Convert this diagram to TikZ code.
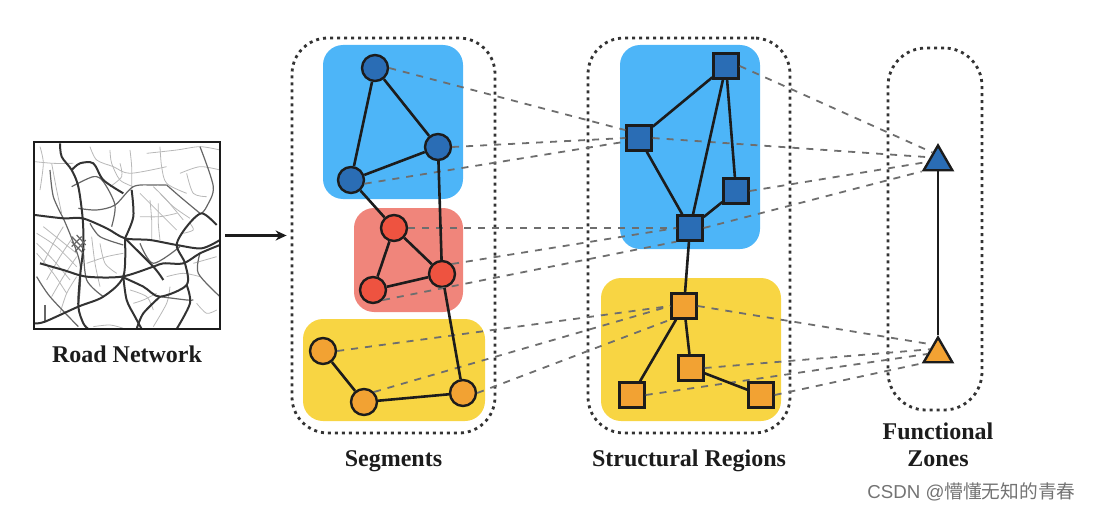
\documentclass[tikz,border=0pt]{standalone}
\usepackage{fontspec}
\setmainfont{Liberation Serif}
\newfontfamily\marksans{Liberation Sans}
\newfontfamily\markcjk{Noto Sans CJK SC}
\usepackage{tikz}
\usetikzlibrary{shapes.geometric,arrows.meta,positioning}

\definecolor{regionblue}{HTML}{4DB5F8}
\definecolor{regionred}{HTML}{F0857B}
\definecolor{regionyellow}{HTML}{F8D543}
\definecolor{nodeblue}{HTML}{2A6DB5}
\definecolor{nodered}{HTML}{EE5340}
\definecolor{nodeorange}{HTML}{F2A233}
\definecolor{inkdark}{HTML}{1C1C1C}
\definecolor{crossgray}{HTML}{6E6E6E}

\begin{document}
\begin{tikzpicture}[x=1pt, y=-1pt, node distance=8pt]
    \tikzstyle{region} = [rectangle, rounded corners=20pt, inner sep=0pt]
    \tikzstyle{group} = [rectangle, draw=inkdark!90, line width=2.8pt, dash pattern=on 3pt off 4pt, inner sep=0pt]
    \tikzstyle{segment} = [circle, draw=inkdark, line width=2.4pt, minimum size=26pt, inner sep=0pt]
    \tikzstyle{structure} = [rectangle, draw=inkdark, line width=2.4pt, minimum size=25pt, inner sep=0pt]
    \tikzstyle{zone} = [regular polygon, regular polygon sides=3, draw=inkdark, line width=2.4pt, minimum size=33pt, inner sep=0pt]
    \tikzstyle{caption} = [font=\bfseries\fontsize{24}{27}\selectfont, align=center, text=inkdark]
    \tikzstyle{link} = [draw=inkdark, line width=2.6pt]
    \tikzstyle{cross} = [draw=crossgray, line width=1.8pt, dash pattern=on 7pt off 7pt]
    \tikzstyle{street} = [draw=black!28, line width=0.8pt]
    \tikzstyle{avenue} = [draw=black!60, line width=1.2pt]
    \tikzstyle{highway} = [draw=black!80, line width=2pt]

    \useasboundingbox (0,0) rectangle (1093,511);

    \begin{scope}[shift={(20,130)}, x=0.3333pt, y=-0.3333pt]
        \clip (42,36) rectangle (604,598);
        \draw [street] plot [smooth] coordinates {(95,100) (110,180) (125,250)};
        \draw [street] plot [smooth] coordinates {(45,95) (100,100) (160,100)};
        \draw [street] plot [smooth] coordinates {(60,50) (70,100) (60,180)};
        \draw [street] plot [smooth] coordinates {(210,50) (230,90) (280,110) (330,130) (440,110)};
        \draw [street] plot [smooth] coordinates {(270,60) (275,100) (300,150) (340,170)};
        \draw [street] plot [smooth] coordinates {(330,60) (335,110) (335,180)};
        \draw [street] plot [smooth] coordinates {(300,100) (305,140) (270,170)};
        \draw [street] plot [smooth] coordinates {(420,50) (425,110) (440,160) (500,190)};
        \draw [street] plot [smooth] coordinates {(380,70) (470,60) (540,50) (600,60)};
        \draw [street] plot [smooth] coordinates {(480,130) (540,110) (600,120)};
        \draw [street] plot [smooth] coordinates {(500,130) (520,190) (560,200)};
        \draw [street] plot [smooth] coordinates {(400,170) (440,210) (490,270)};
        \draw [street] plot [smooth] coordinates {(360,190) (420,250) (470,300)};
        \draw [street] plot [smooth] coordinates {(420,190) (460,230) (510,265)};
        \draw [street] plot [smooth] coordinates {(390,210) (395,270) (395,330)};
        \draw [street] plot [smooth] coordinates {(415,220) (415,280) (420,330)};
        \draw [street] plot [smooth] coordinates {(360,260) (420,260) (470,250)};
        \draw [street] plot [smooth] coordinates {(50,310) (110,350) (170,410)};
        \draw [street] plot [smooth] coordinates {(50,340) (100,390) (150,450)};
        \draw [street] plot [smooth] coordinates {(50,370) (100,430) (140,490)};
        \draw [street] plot [smooth] coordinates {(70,290) (120,330) (170,370)};
        \draw [street] plot [smooth] coordinates {(130,290) (100,340) (70,400)};
        \draw [street] plot [smooth] coordinates {(160,320) (120,380) (80,450)};
        \draw [street] plot [smooth] coordinates {(170,380) (130,440) (95,500)};
        \draw [street] plot [smooth] coordinates {(170,440) (140,490) (120,550)};
        \draw [street] plot [smooth] coordinates {(215,320) (225,400) (240,470)};
        \draw [street] plot [smooth] coordinates {(240,340) (255,400) (290,430)};
        \draw [street] plot [smooth] coordinates {(200,400) (260,380) (310,370)};
        \draw [street] plot [smooth] coordinates {(330,480) (380,500) (400,540)};
        \draw [street] plot [smooth] coordinates {(340,520) (370,510) (410,490)};
        \draw [street] plot [smooth] coordinates {(440,440) (490,430) (540,440)};
        \draw [street] plot [smooth] coordinates {(450,470) (440,520) (400,590)};
        \draw [street] plot [smooth] coordinates {(520,400) (590,380)};
        \draw [street] plot [smooth] coordinates {(530,520) (560,550) (590,540)};
        \draw [street] plot [smooth] coordinates {(220,590) (270,585) (310,595)};
        \draw [street] plot [smooth] coordinates {(510,280) (520,300) (490,310)};
        \draw [avenue] plot [smooth] coordinates {(90,120) (100,200) (130,265)};
        \draw [avenue] plot [smooth] coordinates {(155,170) (220,140) (250,155) (285,225) (275,290)};
        \draw [avenue] plot [smooth] coordinates {(175,235) (230,240) (285,225) (340,170) (400,165) (440,165)};
        \draw [avenue] plot [smooth] coordinates {(440,165) (480,200) (540,250)};
        \draw [avenue] plot [smooth] coordinates {(540,50) (580,170) (560,230) (545,250)};
        \draw [avenue] plot [smooth] coordinates {(190,350) (200,450) (250,500)};
        \draw [avenue] plot [smooth] coordinates {(50,440) (90,500) (175,590)};
        \draw [avenue] plot [smooth] coordinates {(130,265) (180,400) (175,530)};
        \draw [avenue] plot [smooth] coordinates {(210,280) (240,320) (310,345)};
        \draw [avenue] plot [smooth] coordinates {(540,370) (535,430) (600,500)};
        \draw [avenue] plot [smooth] coordinates {(420,500) (500,510) (520,510)};
        \draw [avenue] plot [smooth] coordinates {(75,525) (75,575)};
        \draw [avenue] plot [smooth] coordinates {(360,340) (400,400) (480,350)};
        \draw [highway] plot [smooth] coordinates {(120,40) (125,80) (155,120) (175,170) (188,265) (190,350) (180,440) (175,530) (190,580) (205,597)};
        \draw [highway] plot [smooth] coordinates {(45,255) (130,265) (188,265) (260,295) (315,325) (390,330) (470,345) (545,355) (600,330)};
        \draw [highway] plot [smooth] coordinates {(315,325) (340,260) (335,180)};
        \draw [highway] plot [smooth] coordinates {(315,325) (310,440) (250,500) (175,530) (75,575) (45,580)};
        \draw [highway] plot [smooth] coordinates {(60,400) (130,420) (200,440) (305,440) (400,410) (430,400) (490,400) (540,370) (600,345)};
        \draw [highway] plot [smooth] coordinates {(305,440) (370,470) (420,500) (500,465) (495,400) (470,345) (500,290) (545,250) (590,285)};
        \draw [highway] plot [smooth] coordinates {(420,500) (370,550) (350,597)};
        \draw [highway] plot [smooth] coordinates {(500,465) (510,520) (470,597)};
        \draw [highway] plot [smooth] coordinates {(310,440) (320,510) (345,560) (365,597)};
        \draw [highway] plot [smooth] coordinates {(315,325) (400,410) (430,450)};
        \draw [highway] plot [smooth] coordinates {(155,120) (180,100) (220,100) (250,150) (310,190)};
        \draw [avenue] (155,320) -- (195,360);
        \draw [avenue] (155,335) -- (190,370);
        \draw [avenue] (170,315) -- (197,345);
        \draw [avenue] (155,350) -- (185,320);
        \draw [avenue] (165,365) -- (197,330);
    \end{scope}

    \node [rectangle, draw=inkdark, line width=2.6pt, minimum width=186pt, minimum height=187pt, inner sep=0pt] (roads) at (127,235.5) {};
    \node [caption, below=12pt of roads] (roadslabel) {Road Network};

    \node [region, fill=regionblue, minimum width=140pt, minimum height=154pt] (segblue) at (393,122) {};
    \node [region, fill=regionred, minimum width=109pt, minimum height=104pt] (segred) at (408.5,260) {};
    \node [region, fill=regionyellow, minimum width=182pt, minimum height=102pt] (segyellow) at (394,370) {};
    \node [region, fill=regionblue, minimum width=140pt, minimum height=204pt] (srblue) at (690,147) {};
    \node [region, fill=regionyellow, minimum width=180pt, minimum height=143pt] (sryellow) at (691,349.5) {};

    \node [group, rounded corners=36pt, minimum width=203pt, minimum height=395pt] (segments) at (393.5,235.5) {};
    \node [group, rounded corners=36pt, minimum width=202pt, minimum height=395pt] (regions) at (689,235.5) {};
    \node [group, rounded corners=38pt, minimum width=94pt, minimum height=362pt] (zones) at (935,229) {};

    \node [caption, below=13pt of segments] (segmentslabel) {Segments};
    \node [caption, below=12pt of regions] (regionslabel) {Structural Regions};
    \node [caption, below=8pt of zones, xshift=3pt] (zoneslabel) {Functional\\Zones};

    \node [segment, fill=nodeblue] (sa) at (375,68) {};
    \node [segment, fill=nodeblue] (sb) at (438,147) {};
    \node [segment, fill=nodeblue] (sc) at (351,180) {};
    \node [segment, fill=nodered] (sd) at (394,228) {};
    \node [segment, fill=nodered] (se) at (442,274) {};
    \node [segment, fill=nodered] (sf) at (373,290) {};
    \node [segment, fill=nodeorange] (sg) at (323,351) {};
    \node [segment, fill=nodeorange] (sh) at (364,402) {};
    \node [segment, fill=nodeorange] (si) at (463,393) {};

    \node [structure, fill=nodeblue] (ra) at (726,66) {};
    \node [structure, fill=nodeblue] (rb) at (639,138) {};
    \node [structure, fill=nodeblue] (rc) at (736,191) {};
    \node [structure, fill=nodeblue] (rd) at (690,228) {};
    \node [structure, fill=nodeorange] (re) at (684,306) {};
    \node [structure, fill=nodeorange] (rf) at (691,368) {};
    \node [structure, fill=nodeorange] (rg) at (632,395) {};
    \node [structure, fill=nodeorange] (rh) at (761,395) {};

    \node [zone, fill=nodeblue] (za) at (938,162) {};
    \node [zone, fill=nodeorange] (zb) at (938,354) {};

    \path [cross] (sa.east) -- (rb.150);
    \path [cross] (sb.east) -- (rb.west);
    \path [cross] (sc.-15) -- (rb.195);
    \path [cross] (sd.east) -- (rd.west);
    \path [cross] (se.north east) -- (rd.west);
    \path [cross] (sf.south east) -- (rd.south west);
    \path [cross] (sg.east) -- (re.west);
    \path [cross] (sh.north east) -- (re.west);
    \path [cross] (si.east) -- (re.south west);
    \path [cross] (ra.east) -- (za.120);
    \path [cross] (rb.east) -- (za.150);
    \path [cross] (rc.east) -- (za.180);
    \path [cross] (rd.east) -- (za.corner 2);
    \path [cross] (re.east) -- (zb.120);
    \path [cross] (rf.east) -- (zb.150);
    \path [cross] (rg.east) -- (zb.180);
    \path [cross] (rh.east) -- (zb.corner 2);

    \path [link] (sa) -- (sb);
    \path [link] (sa) -- (sc);
    \path [link] (sb) -- (sc);
    \path [link] (sc) -- (sd);
    \path [link] (sd) -- (se);
    \path [link] (sd) -- (sf);
    \path [link] (se) -- (sf);
    \path [link] (sb) -- (se);
    \path [link] (se) -- (si);
    \path [link] (sg) -- (sh);
    \path [link] (sh) -- (si);

    \path [link] (ra) -- (rb);
    \path [link] (ra) -- (rc);
    \path [link] (ra) -- (rd);
    \path [link] (rb) -- (rd);
    \path [link] (rc) -- (rd);
    \path [link] (rd) -- (re);
    \path [link] (re) -- (rf);
    \path [link] (re) -- (rg);
    \path [link] (rf) -- (rh);

    \path [link] (za) -- (zb);
    \path [link, -{Stealth[length=11pt,width=10pt]}, shorten <=4pt, shorten >=4pt] (roads) -- (segments);

    \node [text=black!55, font=\fontsize{18.7}{20}\selectfont, anchor=east] (watermark) at (1079,492) {\marksans CSDN @\markcjk 懵懂无知的青春};
\end{tikzpicture}
\end{document}
